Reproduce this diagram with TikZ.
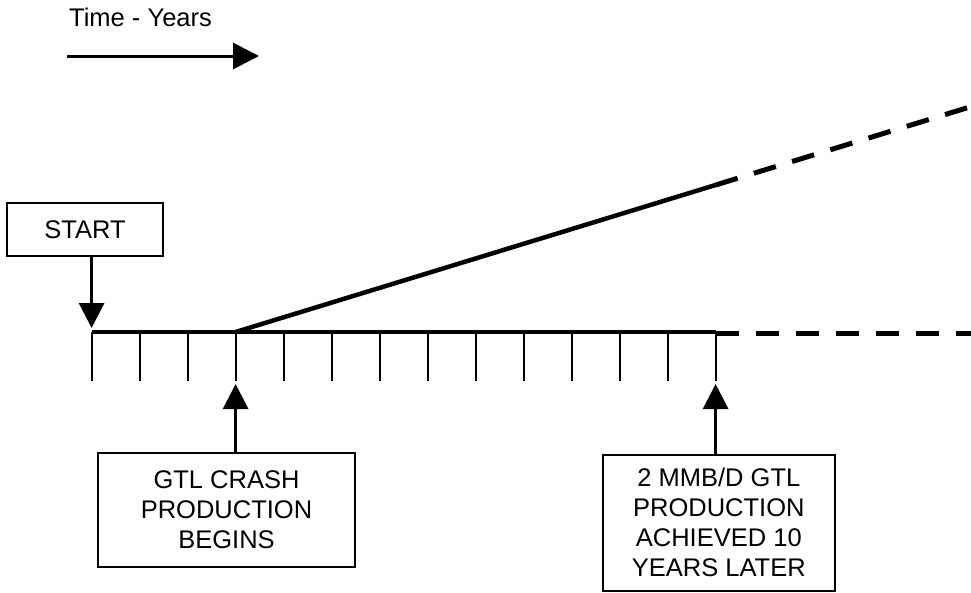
\documentclass[tikz,border=0pt]{standalone}
\usepackage{fontspec}
\setmainfont{Liberation Sans}
\usetikzlibrary{arrows.meta}
\begin{document}
\begin{tikzpicture}[x=1pt,y=-1pt,
  labelfont/.style={font=\fontsize{25.5}{30.2}\selectfont},
  box/.style={draw,line width=2pt,inner sep=0pt,align=center,labelfont},
  arr/.style={line width=3pt,-{Triangle[width=25pt,length=25pt]}},
  tickline/.style={line width=1.8pt},
  thickline/.style={line width=4.5pt},
  dashline/.style={line width=5pt,dash pattern=on 23pt off 17pt}]
\useasboundingbox (0,0) rectangle (971,592);

% direction legend
\node[anchor=base west,inner sep=0pt,labelfont] (title) at (69,26) {Time - Years};
\coordinate (a0) at (67,56);
\coordinate (a1) at (259,56);
\draw[line width=3pt,-{Triangle[width=26pt,length=26pt]}] (a0) -- (a1);

% time axis with yearly ticks
\foreach \i in {0,...,13} {
  \coordinate (t\i) at ({91.6+48*\i},332);
  \coordinate (b\i) at ({91.6+48*\i},380.5);
}
\foreach \i in {0,...,13} \draw[tickline] (t\i) -- (b\i);
\draw[thickline] (t0) -- (t13);

% production ramp
\coordinate (s1) at (715.6,185);
\coordinate (s2) at (971,106.6);
\draw[thickline] (t3) -- (s1);
\draw[dashline] (s1) -- (s2);

% continuation of the axis
\coordinate (h1) at (715.6,333.5);
\coordinate (h2) at (971,333.5);
\draw[dashline] (h1) -- (h2);

% event boxes
\node[box,minimum width=156pt,minimum height=53pt] (start) at (85,229.5) {START};
\node[box,minimum width=257pt,minimum height=114pt] (crash) at (226.5,510) {GTL CRASH\\PRODUCTION\\BEGINS};
\node[box,minimum width=232pt,minimum height=136pt] (goal) at (718.8,522.5) {2 MMB/D GTL\\PRODUCTION\\ACHIEVED 10\\YEARS LATER};

% pointers to the axis
\coordinate (startTip) at (91.6,328);
\coordinate (crashTip) at (235.6,384);
\coordinate (goalTip) at (715.6,384);
\draw[arr] (start.south -| t0) -- (startTip);
\draw[arr] (crash.north -| t3) -- (crashTip);
\draw[arr] (goal.north -| t13) -- (goalTip);
\end{tikzpicture}
\end{document}
